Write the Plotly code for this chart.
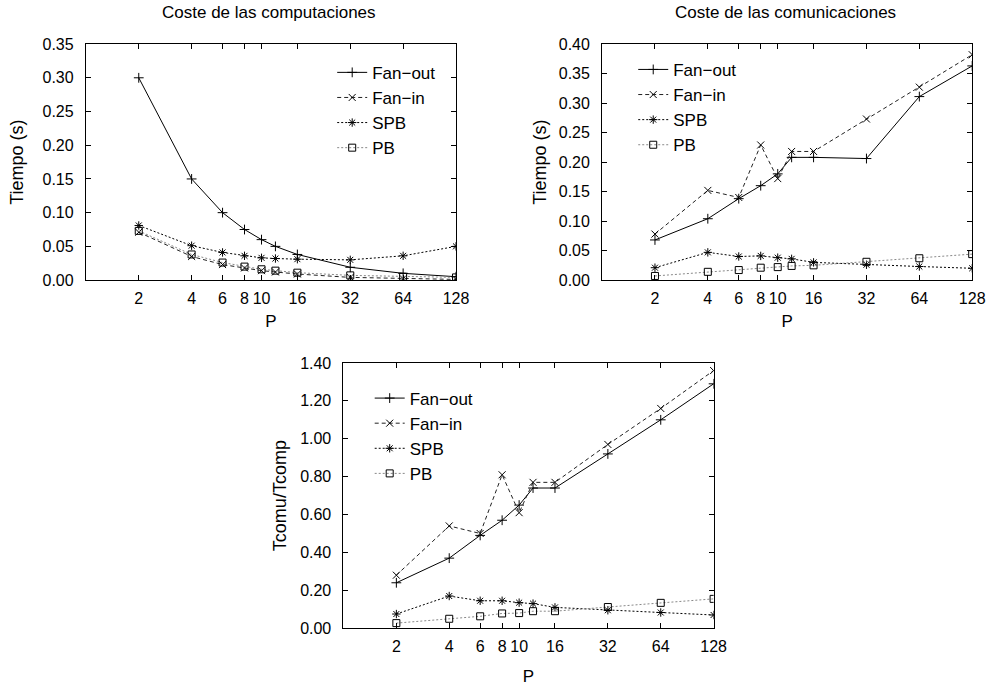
import plotly.graph_objects as go

P = [2, 4, 6, 8, 10, 12, 16, 32, 64, 128]
tick_vals = [2, 4, 6, 8, 10, 16, 32, 64, 128]
tick_text = ["2", "4", "6", "8", "10", "16", "32", "64", "128"]

series_names = ["Fan\u2212out", "Fan\u2212in", "SPB", "PB"]

# Coste de las computaciones
comp_fanout = [0.300, 0.150, 0.100, 0.075, 0.060, 0.050, 0.038, 0.019, 0.010, 0.005]
comp_fanin = [0.071, 0.035, 0.023, 0.018, 0.014, 0.012, 0.009, 0.004, 0.002, 0.001]
comp_spb = [0.081, 0.051, 0.041, 0.036, 0.033, 0.032, 0.031, 0.030, 0.036, 0.050]
comp_pb = [0.073, 0.038, 0.026, 0.020, 0.016, 0.014, 0.011, 0.007, 0.005, 0.004]

# Coste de las comunicaciones
comu_fanout = [0.068, 0.104, 0.138, 0.160, 0.180, 0.208, 0.208, 0.206, 0.311, 0.363]
comu_fanin = [0.078, 0.152, 0.140, 0.229, 0.172, 0.218, 0.218, 0.273, 0.327, 0.382]
comu_spb = [0.021, 0.047, 0.040, 0.041, 0.038, 0.036, 0.030, 0.026, 0.023, 0.020]
comu_pb = [0.007, 0.014, 0.017, 0.021, 0.022, 0.024, 0.025, 0.031, 0.037, 0.044]

# Tcomu/Tcomp
ratio_fanout = [0.24, 0.37, 0.49, 0.57, 0.65, 0.74, 0.74, 0.92, 1.10, 1.29]
ratio_fanin = [0.28, 0.54, 0.50, 0.81, 0.61, 0.77, 0.77, 0.97, 1.16, 1.36]
ratio_spb = [0.075, 0.17, 0.145, 0.145, 0.135, 0.13, 0.11, 0.095, 0.083, 0.07]
ratio_pb = [0.027, 0.05, 0.063, 0.078, 0.080, 0.090, 0.090, 0.112, 0.134, 0.155]

FONT = "Liberation Sans, Arial, Helvetica, sans-serif"

styles = [
    dict(line=dict(color="black", width=1, dash="solid"),
         marker=dict(symbol="cross-thin-open", size=7, color="black", line=dict(width=1, color="black"))),
    dict(line=dict(color="#222222", width=1, dash="4px,3px"),
         marker=dict(symbol="x-thin-open", size=7, color="black", line=dict(width=1, color="black"))),
    dict(line=dict(color="black", width=1, dash="2px,2px"),
         marker=dict(symbol="asterisk-open", size=7, color="black", line=dict(width=1, color="black"))),
    dict(line=dict(color="#888888", width=1, dash="2px,2px"),
         marker=dict(symbol="square-open", size=7, color="black", line=dict(width=1, color="black"))),
]

fig = go.Figure()

panels = [
    ("x", "y", "legend", [comp_fanout, comp_fanin, comp_spb, comp_pb]),
    ("x2", "y2", "legend2", [comu_fanout, comu_fanin, comu_spb, comu_pb]),
    ("x3", "y3", "legend3", [ratio_fanout, ratio_fanin, ratio_spb, ratio_pb]),
]

for xa, ya, lg, data in panels:
    for name, vals, st in zip(series_names, data, styles):
        fig.add_trace(go.Scatter(
            x=P, y=vals, name=name, mode="lines+markers",
            line=st["line"], marker=st["marker"],
            xaxis=xa, yaxis=ya, legend=lg, showlegend=True,
        ))

W, H = 1001, 686

def xd(a, b):
    return [a / W, b / W]

def yd(top, bottom):
    return [1 - bottom / H, 1 - top / H]

def xaxis(standoff):
    return dict(
        type="log", range=[0, 2.1072], tickvals=tick_vals, ticktext=tick_text,
        ticks="inside", ticklen=5, tickcolor="black", showline=True, linecolor="black",
        linewidth=1, mirror="ticks", showgrid=False, zeroline=False, ticklabelstandoff=4,
        tickfont=dict(size=16, color="black", family=FONT),
        title=dict(text="P", font=dict(size=17, color="black", family=FONT), standoff=standoff),
    )

def yaxis(rng, dtick, title, fmt, standoff):
    return dict(
        range=rng, dtick=dtick, tick0=0, tickformat=fmt,
        ticks="inside", ticklen=5, tickcolor="black", showline=True, linecolor="black",
        linewidth=1, mirror="ticks", showgrid=False, zeroline=False, ticklabelstandoff=8,
        tickfont=dict(size=16, color="black", family=FONT),
        title=dict(text=title, font=dict(size=18, color="black", family=FONT), standoff=standoff),
    )

fig.update_layout(
    width=W, height=H,
    margin=dict(l=0, r=0, t=0, b=0),
    paper_bgcolor="white", plot_bgcolor="white",
    font=dict(family=FONT, size=16, color="black"),
    xaxis=dict(xaxis(8), domain=xd(87, 462), anchor="y"),
    yaxis=dict(yaxis([0, 0.35], 0.05, "Tiempo (s)", ".2f", 14), domain=yd(37, 279), anchor="x"),
    xaxis2=dict(xaxis(8), domain=xd(610, 985), anchor="y2"),
    yaxis2=dict(yaxis([0, 0.40], 0.05, "Tiempo (s)", ".2f", 7), domain=yd(37, 279), anchor="x2"),
    xaxis3=dict(xaxis(17), domain=xd(348, 723), anchor="y3"),
    yaxis3=dict(yaxis([0, 1.40], 0.2, "Tcomu/Tcomp", ".2f", 8), domain=yd(364, 636), anchor="x3"),
    annotations=[
        dict(text="Coste de las computaciones", x=273 / W, y=1 - 5 / H, xref="paper", yref="paper",
             showarrow=False, xanchor="center", yanchor="middle", font=dict(size=17, family=FONT)),
        dict(text="Coste de las comunicaciones", x=796 / W, y=1 - 5 / H, xref="paper", yref="paper",
             showarrow=False, xanchor="center", yanchor="middle", font=dict(size=17, family=FONT)),
    ],
)

leg_common = dict(bgcolor="rgba(0,0,0,0)", borderwidth=0, font=dict(size=17, family=FONT, color="black"),
                  tracegroupgap=0, itemwidth=30, xanchor="right", yanchor="top")
fig.update_layout(
    legend=dict(leg_common, x=447 / W, y=1 - 48 / H),
    legend2=dict(leg_common, x=752 / W, y=1 - 45 / H),
    legend3=dict(leg_common, x=485 / W, y=1 - 382 / H),
)

fig.write_html("out.html")
